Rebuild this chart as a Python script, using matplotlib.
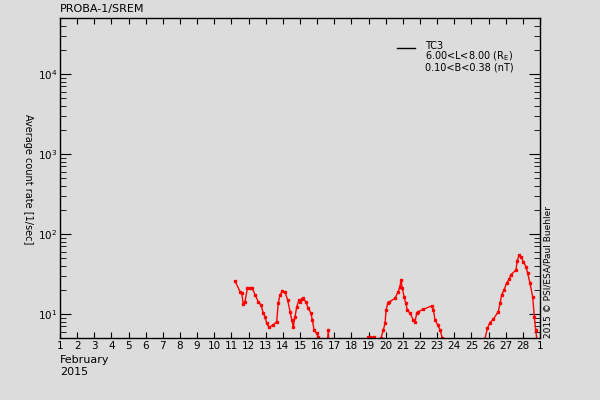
import numpy as np
import matplotlib as mpl
mpl.use('Agg')
import matplotlib.pyplot as plt
from matplotlib.lines import Line2D

# day of February 2015 (29 = 1 March), average count rate [1/sec]
days = [11.21, 11.50, 11.60, 11.69, 11.79, 11.93, 12.08, 12.22, 12.38, 12.57,
        12.73, 12.86, 12.96, 13.06, 13.19, 13.44, 13.64, 13.73, 13.83, 13.97,
        14.13, 14.28, 14.42, 14.52, 14.61, 14.71, 14.81, 14.94, 15.00, 15.10,
        15.19, 15.33, 15.48, 15.64, 15.72, 15.82, 15.97, 16.07, 16.14,
        16.58, 16.65, 16.69,
        18.90, 18.97, 19.10, 19.30, 19.40,
        19.73, 19.86, 19.96, 20.02, 20.12, 20.19, 20.54, 20.73, 20.83, 20.89,
        20.97, 21.07, 21.17, 21.26, 21.42, 21.61, 21.71, 21.81, 21.90, 22.19,
        22.68, 22.78, 22.88, 23.03, 23.17, 23.30, 23.40,
        25.79, 25.93, 26.08, 26.28, 26.57, 26.67, 26.76, 26.90, 27.06, 27.21,
        27.29, 27.60, 27.67, 27.78, 27.89, 28.03, 28.18, 28.28, 28.42, 28.57,
        28.67, 28.75, 28.81, 28.90]
rate = [25.8, 19.0, 18.1, 13.2, 14.2, 20.9, 20.9, 20.9, 17.2, 14.2,
        12.9, 10.2, 9.2, 7.6, 6.8, 7.3, 8.0, 13.6, 17.2, 19.3,
        18.6, 14.9, 10.7, 8.4, 6.9, 9.2, 12.3, 14.9, 14.2, 15.2,
        15.7, 14.2, 11.8, 10.2, 8.4, 6.3, 5.7, 5.2, 4.5,
        4.0, 6.3, 4.0,
        4.0, 5.2, 5.2, 5.1, 4.0,
        5.0, 6.3, 7.6, 11.2, 13.6, 14.0, 15.7, 19.0, 21.9, 26.5,
        20.9, 16.4, 13.6, 11.2, 10.2, 8.4, 8.0, 10.2, 10.7, 11.4,
        12.6, 11.2, 8.4, 7.3, 6.3, 5.0, 4.0,
        4.9, 6.6, 7.8, 8.6, 10.7, 13.6, 17.2, 19.9, 24.6, 27.1,
        30.7, 35.4, 46.3, 54.5, 51.9, 45.0, 38.9, 32.2, 24.1, 16.4,
        9.2, 6.3, 4.9, 4.0]

tick_days = list(range(1, 30))
tick_labels = [str(d) for d in range(1, 29)] + ['1']

bg = '#dcdcdc'
fig = plt.figure(figsize=(6, 4), dpi=100, facecolor=bg)
ax = fig.add_axes([0.1, 0.155, 0.8, 0.8], facecolor=bg)

ax.plot(days, rate, color='red', lw=1.0, marker='s', ms=1.8, mec='red')

ax.set_yscale('log')
ax.set_xlim(1, 29)
ax.set_ylim(5, 5e4)
ax.set_xticks(tick_days)
ax.set_xticklabels(tick_labels, fontsize=7.5)
ax.tick_params(axis='x', which='major', direction='in', length=4, top=True, pad=2)
ax.tick_params(axis='y', which='major', direction='in', length=8, right=True,
               labelsize=7.5, pad=2)
ax.tick_params(axis='y', which='minor', direction='in', length=4, right=True)
ax.tick_params(axis='x', which='minor', bottom=False, top=False)
for s in ax.spines.values():
    s.set_linewidth(1)

fig.text(0.1, 0.965, 'PROBA-1/SREM', fontsize=8, ha='left', va='bottom')
fig.text(0.1, 0.1, 'February', fontsize=8, ha='left', va='center')
fig.text(0.1, 0.07, '2015', fontsize=8, ha='left', va='center')
fig.text(0.047, 0.5525, 'Average count rate [1/sec]', fontsize=7, rotation=270,
         ha='center', va='center')
fig.text(0.913, 0.155, '2015 \u00a9 PSI/ESA/Paul Buehler', fontsize=6.5, rotation=90,
         ha='center', va='bottom')

# legend
fig.add_artist(Line2D([397/600, 415/600], [1-48/400, 1-48/400], color='black', lw=1))
fig.text(425/600, 1-46/400, 'TC3', fontsize=7, va='center')
fig.text(425/600, 1-56.5/400, r'6.00<L<8.00 (R$_\mathregular{E}$)', fontsize=7, va='center')
fig.text(425/600, 1-67.5/400, '0.10<B<0.38 (nT)', fontsize=7, va='center')

plt.savefig('out.png', dpi=100, facecolor=bg)
